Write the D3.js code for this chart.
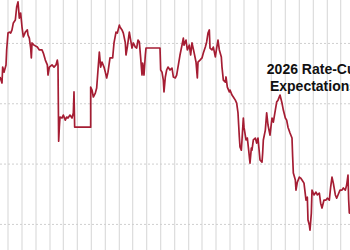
<!DOCTYPE html>
<html>
<head>
<meta charset="utf-8">
<script src="https://cdn.jsdelivr.net/npm/d3@7"></script>
<style>
  body { margin: 0; background: #fff; }
  svg { display: block; }
</style>
</head>
<body>
<svg id="chart"></svg>
<script>
// trading day index since start of window
const days = [0,3,4,6,9,10,12,14,16,18,20,23,25,27,28,29,31,33,35,38,41,42,44,46,47,48,51,56,59,63,65,68,71,72,74,78,81,84,86,87,
  88,89,90,93,95,98,100,102,105,108,110,111,112,136,136,138,140,143,145,147,149,151,153,156,158,160,162,165,169,171,
  174,176,179,180,183,185,188,189,191,194,196,198,200,203,205,207,209,211,213,214,216,218,219,240,241,243,245,246,248,250,
  252,255,258,260,263,265,267,270,273,275,276,279,281,284,286,288,291,294,296,297,300,303,305,308,310,312,314,315,318,320,
  323,325,327,329,332,333,335,338,339,341,344,345,348,350,353,355,357,358,359,360,362,363,365,366,369,371,373,375,377,378,
  380,383,385,387,390,393,394,395,398,400,402,405,408,410,413,415,417,420,423,425,428,430,432,435,438,439,440,443,444,446,
  449,451,453,456,459,461,462,464,465,467,468,471,474,476,479,481,483,486,489,491,494,496,498,500,503,505,507,510,513,515,
  518,520,522,523,524,525];

// 2026 rate cuts priced (bp)
const cutsPriced = [86.1,83.6,90.2,88.1,91.1,97.3,104.3,104.7,104.3,105.6,108.5,109.7,115.1,117.2,113.9,110.5,112.6,106.8,102.7,104.7,105.6,103.5,102.2,98.1,94.0,100.2,99.3,98.5,97.3,97.3,96.0,93.1,91.1,86.9,90.2,91.1,90.2,91.1,93.1,91.1,
  59.5,65.3,69.5,69.1,70.3,68.2,69.5,69.1,70.3,69.1,71.2,79.9,65.3,65.3,81.9,80.7,77.8,79.4,81.5,89.0,96.4,90.2,92.3,90.2,88.1,85.7,88.1,94.0,94.0,100.2,
  104.7,104.3,107.6,106.8,105.6,104.3,100.2,95.2,98.5,104.7,101.4,98.1,100.2,98.5,98.1,101.4,100.6,94.0,86.9,91.9,86.9,95.2,98.1,98.1,89.0,88.1,84.8,79.9,86.1,89.0,
  90.2,89.0,89.8,86.1,85.7,86.9,90.2,95.2,99.3,102.2,99.3,101.4,97.3,99.3,95.2,100.2,96.4,92.3,85.7,92.3,93.1,94.0,96.0,98.5,100.6,104.3,105.6,98.1,97.3,98.5,
  94.4,98.1,101.4,97.3,94.4,90.2,84.8,84.0,86.1,81.9,79.9,80.7,78.6,77.8,76.5,75.3,71.2,66.2,61.2,57.1,55.8,60.0,69.1,65.3,60.0,60.8,55.8,50.4,56.6,55.8,
  60.0,60.8,58.7,60.8,51.7,50.8,54.6,60.0,64.1,71.2,66.2,62.0,69.1,67.4,72.4,75.7,76.5,78.6,75.3,72.4,69.1,68.2,65.3,62.9,60.8,52.9,46.3,43.4,39.2,42.5,
  44.6,44.2,43.4,42.1,35.1,36.3,26.8,24.7,22.6,29.7,39.2,37.2,38.4,37.2,38.0,33.8,31.8,35.1,35.1,35.9,35.1,40.5,44.6,42.1,37.2,35.9,37.2,39.2,39.2,40.1,
  39.2,41.3,45.4,35.1,29.7,30.9];

// month boundaries (trading day index)
const monthTicks = [12,33,54,75,95,116,137,158,179,199,220,241,262,283,303,324,345,366,387,407,428,449,470,491,511];
const valueTicks = [25, 50, 75, 100];
const titleLines = ["2026 Rate-Cut", "Expectations"];

const width = 350, height = 250;
const svg = d3.select("#chart").attr("width", width).attr("height", height);

const x = d3.scaleLinear().domain([0, 525]).range([0, width]);
const y = d3.scaleLinear().domain([14.4, 118]).range([height, 0]);

// vertical month grid
svg.append("g")
   .selectAll("line")
   .data(monthTicks)
   .enter()
   .append("line")
   .attr("x1", d => x(d)).attr("x2", d => x(d))
   .attr("y1", 0).attr("y2", height)
   .attr("stroke", "#dcdcdc")
   .attr("stroke-width", 1.2);

// horizontal dotted grid
svg.append("g")
   .selectAll("line")
   .data(valueTicks)
   .enter()
   .append("line")
   .attr("x1", 0).attr("x2", width)
   .attr("y1", d => y(d)).attr("y2", d => y(d))
   .attr("stroke", "#cfcfcf")
   .attr("stroke-width", 1)
   .attr("stroke-dasharray", "2,2");

const data = days.map((d, i) => ({ day: d, v: cutsPriced[i] }));

const line = d3.line()
    .x(d => x(d.day))
    .y(d => y(d.v));

svg.append("path")
   .datum(data)
   .attr("fill", "none")
   .attr("stroke", "#a51d33")
   .attr("stroke-width", 1.7)
   .attr("stroke-linejoin", "round")
   .attr("d", line);

// annotation
svg.append("g")
   .selectAll("text")
   .data(titleLines)
   .enter()
   .append("text")
   .attr("x", 313.5)
   .attr("y", (d, i) => 74 + i * 17)
   .attr("text-anchor", "middle")
   .attr("font-family", "'Liberation Sans', Arial, sans-serif")
   .attr("font-weight", "bold")
   .attr("font-size", 14)
   .attr("fill", "#111")
   .text(d => d);
</script>
</body>
</html>
